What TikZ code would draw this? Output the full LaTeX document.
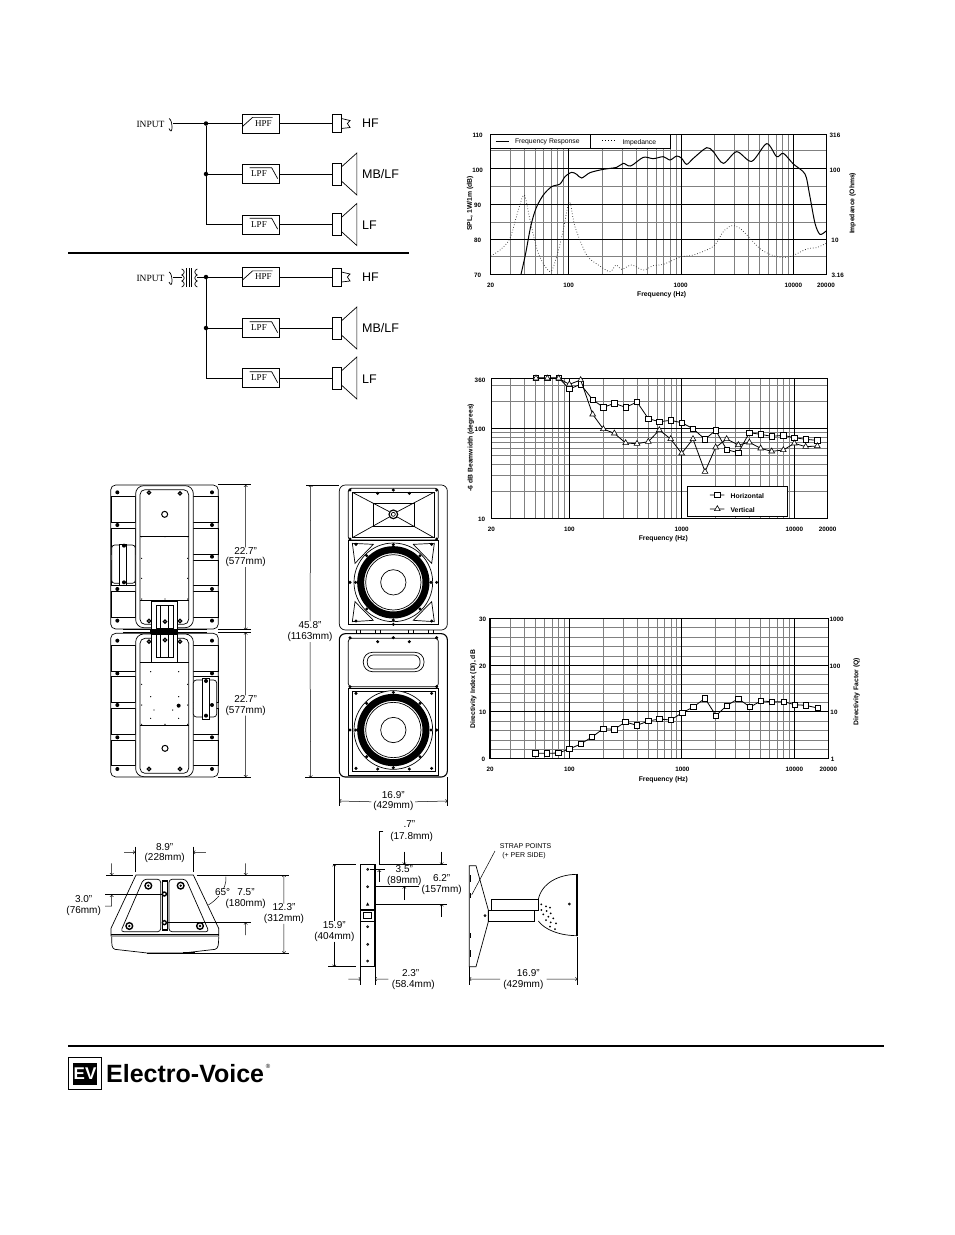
\documentclass[tikz,border=0pt]{standalone}
\usepackage{fontspec}
\setmainfont{Liberation Sans}
\newfontfamily\schemfont{Liberation Serif}
\usetikzlibrary{positioning}
\usetikzlibrary{calc,plotmarks}

\tikzset{
	filterbox/.style={draw, line width=0.7pt, minimum width=37pt, minimum height=19pt, inner sep=0pt, font=\schemfont\fontsize{9}{9}\selectfont},
	tweeter/.style={draw, line width=0.7pt, minimum width=9pt, minimum height=18pt, inner sep=0pt},
	woofer/.style={draw, line width=0.7pt, minimum width=9pt, minimum height=22pt, inner sep=0pt},
	junction/.style={circle, fill=black, inner sep=0pt, minimum size=4.5pt},
	wire/.style={line width=0.7pt},
	drivertext/.style={anchor=west, inner sep=0pt, font=\fontsize{12.5}{12.5}\selectfont},
	inputtext/.style={inner sep=0pt, font=\schemfont\fontsize{9.5}{9.5}\selectfont},
	ticktext/.style={inner sep=0pt, font=\bfseries\fontsize{6.3}{6.3}\selectfont},
	axistext/.style={inner sep=0pt, font=\bfseries\fontsize{6.8}{6.8}\selectfont},
	legendtext/.style={inner sep=0pt, font=\fontsize{6.8}{6.8}\selectfont},
	gridminor/.style={line width=0.7pt, draw=black!50},
	gridmajor/.style={line width=0.9pt, draw=black},
	cabline/.style={line width=0.7pt},
	dimline/.style={line width=0.5pt},
	dimtext/.style={inner sep=0pt, font=\fontsize{10}{10}\selectfont},
	strongline/.style={line width=2pt},
	squaremarks/.style={mark=square*, mark size=7.8pt, mark options={fill=white, line width=0.6pt}},
	trianglemarks/.style={mark=triangle*, mark size=10pt, mark options={fill=white, line width=0.6pt}},
}

% log frequency grid: position of 100 Hz, width of a decade, top, bottom
\newcommand{\freqgrid}[4]{%
	\foreach \fq in {30,40,50,60,70,80,90,200,300,400,500,600,700,800,900,2000,3000,4000,5000,6000,7000,8000,9000}{
		\pgfmathsetmacro{\gridx}{#1+#2*(log10(\fq)-2)}
		\draw[gridminor] (\gridx,#3) -- (\gridx,#4);
	}
	\foreach \fq in {0,1,2}{
		\pgfmathsetmacro{\gridx}{#1+#2*\fq}
		\draw[gridmajor] (\gridx,#3) -- (\gridx,#4);
	}
}
% cone and flare of the two driver sizes
\newcommand{\conecut}[1]{%
	\draw[wire] ($(#1.east)+(0,-7)$) -- ++(15.5,-14) -- ++(0,42) -- ($(#1.east)+(0,7)$);
}
\newcommand{\hornflare}[1]{%
	\draw[wire] ($(#1.east)+(0,-5)$) -- ++(8.7,2) -- ++(-2.7,3) -- ++(2.7,4) -- ++(-8.7,1);
}
% slope marks on the filter boxes
\newcommand{\hpfmark}[1]{%
	\draw[wire] ($(#1.south west)+(1,-7)$) -- ++(10,-9) -- ++(20,0);
}
\newcommand{\lpfmark}[1]{%
	\draw[wire] ($(#1.north west)+(8,3.5)$) -- ++(22,0) -- ++(6,11);
}
% front woofer, in the coordinates of its scope
\newcommand{\wooferface}[2]{%
	\draw[cabline] (#1,#2) circle[radius=118];
	\draw[line width=7pt] (#1,#2) circle[radius=98];
	\draw[cabline] (#1,#2) circle[radius=83];
	\draw[cabline] (#1,#2) circle[radius=38];
	\foreach \ang in {0,45,...,315}{
		\fill ($(#1,#2)+(\ang:113)$) circle[radius=5];
	}
}

\begin{document}
\begin{tikzpicture}[x=1pt,y=-1pt]
	\useasboundingbox (0,0) rectangle (954,1235);
	\fill[white] (0,0) rectangle (954,1235);
	
	% ---------------------
	% Schematic, upper block
	\coordinate (jackA) at (173,123.5);
	\node[junction] (jA) at (206,123.5) {};
	\node[junction] (jB) at (206,174) {};
	\node[filterbox] (hpfA) at (260.5,123.5) {\raisebox{-1.5pt}{\hspace{6pt}HPF}};
	\node[filterbox] (lpfB) at (260.5,174) {\raisebox{-1.5pt}{LPF\hspace{3pt}}};
	\node[filterbox] (lpfC) at (260.5,224.5) {\raisebox{-1.5pt}{LPF\hspace{3pt}}};
	\node[tweeter] (drvA) at (336.5,123.5) {};
	\node[woofer] (drvB) at (336.5,174) {};
	\node[woofer] (drvC) at (336.5,224.5) {};
	\node[drivertext] (labA) at (362,123.5) {HF};
	\node[drivertext] (labB) at (362,174) {MB/LF};
	\node[drivertext] (labC) at (362,225) {LF};
	\node[inputtext] (inA) at (150.5,124) {INPUT};
	
	\draw[wire] (jackA) -- (jA) -- (hpfA);
	\draw[wire] (jA) -- (jB) -- (lpfB);
	\draw[wire] (jB) |- (lpfC);
	\draw[wire] (hpfA) -- (drvA);
	\draw[wire] (lpfB) -- (drvB);
	\draw[wire] (lpfC) -- (drvC);
	\draw[wire] (jackA) ++(-4,-5) .. controls +(4,1) and +(4,9) .. ++(0,10);
	\hornflare{drvA}
	\conecut{drvB}
	\conecut{drvC}
	\hpfmark{hpfA}
	\lpfmark{lpfB}
	\lpfmark{lpfC}
	
	\coordinate (sepL) at (68,253);
	\coordinate (sepR) at (409,253);
	\draw[strongline] (sepL) -- (sepR);
	
	% ---------------------
	% Schematic, lower block
	\coordinate (jackD) at (173,277);
	\coordinate (coilL) at (181.7,277);
	\coordinate (coilR) at (197.3,277);
	\node[junction] (jD) at (206,277) {};
	\node[junction] (jE) at (206,328) {};
	\node[filterbox] (hpfD) at (260.5,277) {\raisebox{-1.5pt}{\hspace{6pt}HPF}};
	\node[filterbox] (lpfE) at (260.5,328) {\raisebox{-1.5pt}{LPF\hspace{3pt}}};
	\node[filterbox] (lpfF) at (260.5,378) {\raisebox{-1.5pt}{LPF\hspace{3pt}}};
	\node[tweeter] (drvD) at (336.5,277) {};
	\node[woofer] (drvE) at (336.5,328) {};
	\node[woofer] (drvF) at (336.5,378) {};
	\node[drivertext] (labD) at (362,277) {HF};
	\node[drivertext] (labE) at (362,328) {MB/LF};
	\node[drivertext] (labF) at (362,379) {LF};
	\node[inputtext] (inD) at (150.5,278) {INPUT};
	
	\draw[wire] (jackD) -- (coilL);
	\draw[wire] (coilR) -- (jD) -- (hpfD);
	\draw[wire] (jD) -- (jE) -- (lpfE);
	\draw[wire] (jE) |- (lpfF);
	\draw[wire] (hpfD) -- (drvD);
	\draw[wire] (lpfE) -- (drvE);
	\draw[wire] (lpfF) -- (drvF);
	\draw[wire] (jackD) ++(-4,-5) .. controls +(4,1) and +(4,9) .. ++(0,10);
	\hornflare{drvD}
	\conecut{drvE}
	\conecut{drvF}
	\hpfmark{hpfD}
	\lpfmark{lpfE}
	\lpfmark{lpfF}
	
	% transformer
	\begin{scope}[shift={(120,100)},scale=1/3]
		\foreach \bump in {507,525,543}{
			\draw[wire] (185,\bump) .. controls (195,\bump+3) and (195,\bump+15) .. (185,\bump+18);
			\draw[wire] (232,\bump) .. controls (222,\bump+3) and (222,\bump+15) .. (232,\bump+18);
		}
		\foreach \core in {200,207,215}{
			\draw[wire] (\core,505) -- (\core,562);
		}
	\end{scope}
	
	% ------------------------------------------------
	% Frequency response chart
	\begin{scope}[shift={(460,120)},scale=1/3]
		\foreach \rowy in {92,198,306,410}{
			\draw[gridminor] (92,\rowy) -- (1098,\rowy);
		}
		\freqgrid{326}{337}{42}{463}
		\foreach \rowy in {146,254,358}{
			\draw[gridmajor] (92,\rowy) -- (1098,\rowy);
		}
		\draw[line width=1pt] (92,42) rectangle (1098,463);
		
		\node[draw, line width=0.9pt, fill=white, minimum width=100pt, minimum height=14.5pt, inner sep=0pt] (legendSpl) at (241,65) {};
		\node[draw, line width=0.9pt, fill=white, minimum width=80pt, minimum height=14.5pt, inner sep=0pt] (legendImp) at (511,65) {};
		\coordinate (splA) at (107,63);
		\coordinate (splB) at (148,63);
		\coordinate (impA) at (427,62);
		\coordinate (impB) at (467,62);
		\draw[line width=1pt] (splA) -- (splB);
		\draw[line width=0.9pt, dotted] (impA) -- (impB);
		\node[legendtext] (legendSplText) at (262,67) {Frequency Response};
		\node[legendtext] (legendImpText) at (538,67) {Impedance};
		
		\draw[line width=0.7pt, dotted, draw=black!85] plot[smooth] coordinates {(92,408) (120,390) (150,355) (175,270) (193,225) (210,300) (235,400) (270,455) (290,410) (310,330) (328,245) (345,320) (380,405) (415,435) (450,455) (468,435) (485,448) (515,435) (550,450) (580,437) (610,433) (640,420) (665,410) (700,405) (740,390) (765,375) (790,335) (815,317) (840,325) (870,355) (905,390) (950,410) (990,410) (1040,387) (1070,383) (1098,370)};
		\draw[line width=1pt] plot[smooth] coordinates {(183,463) (197,400) (212,320) (228,265) (250,225) (275,200) (300,192) (315,170) (335,157) (350,163) (365,174) (390,158) (430,148) (470,142) (490,130) (512,138) (550,112) (580,116) (610,110) (630,120) (650,108) (665,115) (680,133) (700,115) (740,83) (760,95) (790,130) (830,95) (875,124) (920,71) (950,110) (970,100) (1000,132) (1035,162) (1048,220) (1065,310) (1080,343) (1098,333)};
		
		\node[ticktext] (splT) at (53,45) {110};
		\node[ticktext] (splU) at (53,150) {100};
		\node[ticktext] (splV) at (53,255) {90};
		\node[ticktext] (splW) at (53,360) {80};
		\node[ticktext] (splX) at (53,465) {70};
		\node[ticktext] (impT) at (1125,45) {316};
		\node[ticktext] (impU) at (1125,150) {100};
		\node[ticktext] (impV) at (1125,360) {10};
		\node[ticktext] (impW) at (1133,465) {3.16};
		\node[ticktext] (frqA) at (92,495) {20};
		\node[ticktext] (frqB) at (326,495) {100};
		\node[ticktext] (frqC) at (662,495) {1000};
		\node[ticktext] (frqD) at (1000,495) {10000};
		\node[ticktext] (frqE) at (1098,495) {20000};
		\node[axistext] (frqTitle) at (605,525) {Frequency (Hz)};
		\node[axistext, rotate=90] (splTitle) at (30,250) {SPL, 1W/1m (dB)};
		\node[axistext, rotate=90] (impTitle) at (1178,250) {Impedance (Ohms)};
	\end{scope}
	
	% ------------------------------------------------
	% Beamwidth chart
	\begin{scope}[shift={(460,365)},scale=1/3]
		\foreach \rowy in {379,331,297,271,250,232,216,202,109,61}{
			\draw[gridminor] (94,\rowy) -- (1103,\rowy);
		}
		\freqgrid{328}{337.5}{40}{460}
		\draw[gridmajor] (94,190) -- (1103,190);
		\draw[line width=1pt] (94,40) rectangle (1103,460);
		
		\draw[line width=0.8pt] plot[squaremarks] coordinates {(228,38) (262,38) (296,38) (328,72) (362,58) (398,104) (430,127) (463,115) (497,127) (531,111) (565,161) (598,170) (632,166) (665,173) (699,191) (735,223) (767,196) (800,254) (835,263) (868,203) (902,208) (935,214) (970,211) (1003,218) (1037,223) (1072,226)};
		\draw[line width=0.8pt] plot[trianglemarks] coordinates {(228,40) (262,40) (296,40) (328,58) (362,45) (398,148) (430,192) (463,205) (497,234) (531,236) (565,230) (598,195) (632,222) (665,265) (699,222) (735,320) (767,247) (800,222) (835,240) (868,232) (902,250) (935,259) (970,255) (1003,235) (1037,245) (1072,243)};
		
		\node[draw, line width=0.9pt, fill=white, minimum width=100pt, minimum height=30pt, inner sep=0pt] (legendBeam) at (832.5,410) {};
		\coordinate (horA) at (750,390);
		\coordinate (horB) at (793,390);
		\coordinate (verA) at (750,432);
		\coordinate (verB) at (793,432);
		\draw[line width=0.7pt] plot[squaremarks, mark indices={2}] coordinates {(horA) (772,390) (horB)};
		\draw[line width=0.7pt] plot[trianglemarks, mark indices={2}] coordinates {(verA) (772,432) (verB)};
		\node[axistext] (horText) at (862,392) {Horizontal};
		\node[axistext] (verText) at (848,434) {Vertical};
		
		\node[ticktext] (bemT) at (60,45) {360};
		\node[ticktext] (bemU) at (60,192) {100};
		\node[ticktext] (bemV) at (65,462) {10};
		\node[ticktext] (bemA) at (94,492) {20};
		\node[ticktext] (bemB) at (328,492) {100};
		\node[ticktext] (bemC) at (665,492) {1000};
		\node[ticktext] (bemD) at (1003,492) {10000};
		\node[ticktext] (bemE) at (1103,492) {20000};
		\node[axistext] (bemTitle) at (610,522) {Frequency (Hz)};
		\node[axistext, rotate=90] (bemSide) at (33,248) {-6 dB Beamwidth (degrees)};
	\end{scope}
	
	% ------------------------------------------------
	% Directivity chart
	\begin{scope}[shift={(460,610)},scale=1/3]
		\foreach \rowy in {53,81,110,138,194,222,250,277,333,361,390,418}{
			\draw[gridminor] (90,\rowy) -- (1105,\rowy);
		}
		\freqgrid{328}{337.5}{25}{446}
		\foreach \rowy in {166,305}{
			\draw[gridmajor] (90,\rowy) -- (1105,\rowy);
		}
		\draw[line width=0.9pt] (90,446) -- (1105,446) -- (1105,25);
		\draw[line width=1.5pt] (90,446) -- (90,25) -- (1105,25);
		
		\draw[line width=0.8pt] plot[squaremarks] coordinates {(226,430) (261,430) (295,429) (328,417) (362,402) (396,381) (430,356) (463,358) (496,336) (531,346) (565,333) (598,327) (632,330) (667,308) (700,291) (735,265) (768,317) (800,287) (835,266) (870,291) (903,273) (936,275) (971,275) (1004,284) (1037,286) (1073,294)};
		
		\node[ticktext] (dixT) at (68,28) {30};
		\node[ticktext] (dixU) at (68,168) {20};
		\node[ticktext] (dixV) at (68,308) {10};
		\node[ticktext] (dixW) at (70,448) {0};
		\node[ticktext] (qfaT) at (1130,28) {1000};
		\node[ticktext] (qfaU) at (1125,168) {100};
		\node[ticktext] (qfaV) at (1122,308) {10};
		\node[ticktext] (qfaW) at (1118,448) {1};
		\node[ticktext] (dirA) at (90,478) {20};
		\node[ticktext] (dirB) at (328,478) {100};
		\node[ticktext] (dirC) at (667,478) {1000};
		\node[ticktext] (dirD) at (1003,478) {10000};
		\node[ticktext] (dirE) at (1105,478) {20000};
		\node[axistext] (dirTitle) at (610,508) {Frequency (Hz)};
		\node[axistext, rotate=90] (dixTitle) at (40,238) {Directivity Index (DI), dB};
		\node[axistext, rotate=90] (qfaTitle) at (1190,245) {Directivity Factor (Q)};
	\end{scope}
	
	% ------------------------------------------------
	% Rear view of the two cabinets
	\begin{scope}[shift={(100,475)},scale=1/3]
		\draw[cabline, rounded corners=5pt] (32,30) rectangle (355,462);
		\draw[cabline, rounded corners=5pt] (32,475) rectangle (355,906);
		\foreach \rowa/\rowb in {65/142,160/238,255/332,350/427,510/590,605/682,700/778,795/872}{
			\draw[cabline] (33,\rowa) rectangle (107,\rowb);
			\draw[cabline] (278,\rowa) rectangle (354,\rowb);
		}
		\draw[cabline, rounded corners=8pt, fill=white] (107,32) rectangle (280,458);
		\draw[cabline, rounded corners=5pt] (120,44) rectangle (266,448);
		\draw[cabline, rounded corners=8pt, fill=white] (107,477) rectangle (280,905);
		\draw[cabline, rounded corners=5pt] (120,490) rectangle (266,895);
		\draw[cabline] (120,183) -- (266,183);
		\draw[cabline] (120,375) -- (266,375);
		\draw[cabline] (120,563) -- (266,563);
		\draw[cabline] (120,752) -- (266,752);
		
		% horn brackets
		\draw[cabline, fill=white] (155,378) rectangle (232,462);
		\draw[cabline, fill=white] (168,390) rectangle (220,460);
		\draw[cabline] (180,390) -- (180,460) (206,390) -- (206,460);
		\draw[cabline, fill=white] (155,478) rectangle (232,562);
		\draw[cabline, fill=white] (168,478) rectangle (220,548);
		\draw[cabline] (180,478) -- (180,548) (206,478) -- (206,548);
		\fill (150,461) rectangle (235,478);
		\draw[cabline] (70,464) -- (320,464) (70,472) -- (320,472);
		
		% handles
		\draw[cabline, rounded corners=3pt, fill=white] (35,210) rectangle (106,325);
		\draw[cabline, fill=white] (58,207) rectangle (80,330);
		\draw[cabline, rounded corners=3pt, fill=white] (280,615) rectangle (350,726);
		\draw[cabline, fill=white] (306,610) rectangle (328,732);
		
		% screws
		\foreach \sx/\sy in {52/52,336/52,52/150,336/150,52/342,336/342,52/437,336/437,336/245,72/322,72/212,52/497,336/497,52/595,336/595,52/690,336/690,52/787,336/787,52/882,336/882,318/618,318/722,236/692}{
			\fill (\sx,\sy) circle[radius=6];
		}
		\foreach \sx/\sy in {147/53,240/55,147/438,240/438,195/440,147/500,240/500,195/495,147/882,240/882}{
			\draw[line width=1.2pt] (\sx,\sy) circle[radius=5];
		}
		\draw[line width=1pt, fill=white] (194,118) circle[radius=9];
		\draw[line width=1pt, fill=white] (195,820) circle[radius=9];
		\foreach \sx/\sy in {195/185,263/185,125/185,125/250,263/250,125/310,263/310,125/372,263/372,195/372,125/628,263/628,125/690,263/690,125/748,263/748,195/748,152/590,236/590,152/665,236/665,162/705,218/705,152/730,236/730}{
			\fill (\sx,\sy) circle[radius=2];
		}
		
		% dimensions
		\coordinate (rearA) at (437,30);
		\coordinate (rearB) at (437,464);
		\coordinate (rearC) at (437,473);
		\coordinate (rearD) at (437,906);
		\draw[dimline] (355,28) -- (452,28);
		\draw[dimline] (355,464) -- (452,464);
		\draw[dimline] (355,473) -- (452,473);
		\draw[dimline] (355,906) -- (452,906);
		\node[dimtext, fill=white] (rearT) at (437,228) {22.7"};
		\node[dimtext, fill=white] (rearU) at (437,262) {(577mm)};
		\node[dimtext, fill=white] (rearV) at (437,672) {22.7"};
		\node[dimtext, fill=white] (rearW) at (437,707) {(577mm)};
		\draw[dimline, ->] (rearT) -- (rearA);
		\draw[dimline, ->] (rearU) -- (rearB);
		\draw[dimline, ->] (rearV) -- (rearC);
		\draw[dimline, ->] (rearW) -- (rearD);
	\end{scope}
	
	% ------------------------------------------------
	% Front view of the two cabinets
	\begin{scope}[shift={(280,475)},scale=1/3]
		\draw[cabline, rounded corners=6pt] (178,30) rectangle (502,465);
		\draw[line width=1.1pt, rounded corners=6pt] (178,476) rectangle (502,906);
		\foreach \tx in {228,242,285,300,385,400,445,460}{
			\draw[dimline] (\tx,465) -- (\tx,476);
		}
		
		% top cabinet
		\draw[cabline, rounded corners=3pt] (205,40) rectangle (475,195);
		\draw[cabline] (217,52) rectangle (462,188);
		\draw[cabline] (280,85) rectangle (403,155);
		\draw[cabline] (217,52) -- (328,110) (462,52) -- (352,110) (217,188) -- (328,126) (462,188) -- (352,126);
		\draw[line width=1.2pt, fill=white] (340,118) circle[radius=13];
		\draw[cabline] (340,118) circle[radius=6];
		\draw[line width=1pt] (205,197) rectangle (475,448);
		\draw[cabline] (217,205) -- (280,208) -- (225,265) -- cycle;
		\draw[cabline] (463,205) -- (400,208) -- (455,265) -- cycle;
		\draw[cabline] (217,440) -- (280,436) -- (225,380) -- cycle;
		\draw[cabline] (463,440) -- (400,436) -- (455,380) -- cycle;
		\fill[white] (340,322) circle[radius=118];
		\wooferface{340}{322}
		
		% bottom cabinet
		\draw[cabline, rounded corners=3pt] (205,490) rectangle (475,635);
		\draw[cabline, rounded corners=9pt] (250,532) rectangle (432,590);
		\draw[cabline, rounded corners=6pt] (262,540) rectangle (420,582);
		\draw[line width=1pt] (205,640) rectangle (475,900);
		\draw[cabline] (217,650) rectangle (465,890);
		\fill[white] (340,765) circle[radius=118];
		\wooferface{340}{765}
		
		\foreach \sx/\sy in {210/45,340/45,470/45,293/55,388/55,210/192,470/192,228/208,455/208,228/438,455/438,210/322,470/322,340/448,210/488,340/488,470/488,293/500,388/500,210/635,470/635,228/655,455/655,228/880,455/880,210/765,470/765,293/882,388/882}{
			\fill (\sx,\sy) circle[radius=5];
		}
		
		% dimensions
		\coordinate (frontA) at (92,30);
		\coordinate (frontB) at (92,907);
		\coordinate (frontC) at (178,978);
		\coordinate (frontD) at (502,978);
		\draw[dimline] (78,30) -- (178,30);
		\draw[dimline] (75,907) -- (178,907);
		\draw[dimline] (178,906) -- (178,992);
		\draw[dimline] (502,906) -- (502,992);
		\node[dimtext] (frontT) at (90,450) {45.8"};
		\node[dimtext] (frontU) at (90,487) {(1163mm)};
		\node[dimtext] (frontV) at (340,960) {16.9"};
		\node[dimtext] (frontW) at (340,992) {(429mm)};
		\draw[dimline, ->] (frontT) -- (frontA);
		\draw[dimline, ->] (frontU) -- (frontB);
		\draw[dimline, ->] (frontW.north west) ++(-5,3) -- (frontC);
		\draw[dimline, ->] (frontW.north east) ++(5,3) -- (frontD);
	\end{scope}
	
	% ------------------------------------------------
	% Cabinet seen from above
	\begin{scope}[shift={(60,820)},scale=1/3]
		\draw[cabline] (228,165) -- (153,325) -- (153,348) -- (476,348) -- (476,325) -- (400,165) -- cycle;
		\draw[line width=1pt] (152,344) -- (476,344);
		\draw[cabline] (155,350) .. controls (155,375) and (155,385) .. (165,388) -- (262,399) -- (370,399) -- (465,388) .. controls (475,385) and (476,375) .. (476,350);
		\draw[line width=1.2pt] (370,399) -- (405,399);
		\draw[cabline, rounded corners=3pt] (250,178) -- (302,178) -- (302,335) -- (182,335) -- cycle;
		\draw[cabline, rounded corners=3pt] (327,178) -- (378,178) -- (447,335) -- (327,335) -- cycle;
		\draw[line width=1.2pt] (308,183) rectangle (322,330);
		\foreach \sx/\sy in {265/197,362/197,208/318,420/318}{
			\draw[line width=1.4pt] (\sx,\sy) circle[radius=10];
			\fill (\sx,\sy) circle[radius=4];
		}
		\foreach \sx/\sy in {313/222,313/308}{
			\draw[line width=1.4pt] (\sx,\sy) circle[radius=6];
		}
		
		\coordinate (topA) at (225,97);
		\coordinate (topB) at (400,97);
		\coordinate (topC) at (155,165);
		\coordinate (topD) at (155,225);
		\coordinate (topE) at (557,165);
		\coordinate (topF) at (557,308);
		\coordinate (topG) at (672,165);
		\coordinate (topH) at (672,400);
		\draw[dimline] (138,165) -- (220,165);
		\draw[dimline] (410,165) -- (688,165);
		\draw[dimline] (262,400) -- (688,400);
		\draw[dimline] (135,222) -- (305,222);
		\draw[dimline] (325,308) -- (572,308);
		\draw[dimline] (225,80) -- (225,155);
		\draw[dimline] (400,80) -- (400,155);
		\draw[dimline, ->] (192,97) -- (topA);
		\draw[dimline, ->] (438,97) -- (topB);
		\draw[dimline, ->] (155,130) -- (topC);
		\draw[dimline, ->] (135,258) -- (155,258) -- (topD);
		\draw[dimline, ->] (557,130) -- (topE);
		\draw[dimline, ->] (557,345) -- (topF);
		\draw[dimline] (498,170) .. controls (500,210) and (470,240) .. (445,255);
		\node[dimtext] (topT) at (314,80) {8.9"};
		\node[dimtext] (topU) at (314,113) {(228mm)};
		\node[dimtext] (topV) at (71,238) {3.0"};
		\node[dimtext] (topW) at (71,273) {(76mm)};
		\node[dimtext, fill=white] (topX) at (488,217) {65°};
		\node[dimtext] (topY) at (558,217) {7.5"};
		\node[dimtext] (topZ) at (557,252) {(180mm)};
		\node[dimtext] (topP) at (672,262) {12.3"};
		\node[dimtext] (topQ) at (672,297) {(312mm)};
		\draw[dimline, ->] (topP) -- (topG);
		\draw[dimline, ->] (topQ) -- (topH);
	\end{scope}
	
	% ------------------------------------------------
	% Bracket and side view
	\begin{scope}[shift={(320,815)},scale=1/3]
		\draw[cabline] (122,148) rectangle (165,455);
		\draw[line width=1.4pt] (165,148) -- (165,455);
		\draw[line width=1.4pt, fill=white] (122,285) rectangle (165,320);
		\draw[cabline] (130,293) rectangle (155,310);
		\foreach \sy in {163,215,335,388,438}{
			\draw[cabline] (143,\sy) circle[radius=3];
		}
		\fill (138,272) -- (143,262) -- (148,272) -- cycle;
		
		\coordinate (brkA) at (43,148);
		\coordinate (brkB) at (43,455);
		\coordinate (brkC) at (122,492);
		\coordinate (brkD) at (165,492);
		\draw[dimline] (40,148) -- (108,148);
		\draw[dimline] (25,455) -- (108,455);
		\draw[dimline] (122,455) -- (122,510);
		\draw[dimline] (165,455) -- (165,510);
		\draw[dimline] (150,163) -- (195,163);
		\draw[dimline] (165,215) -- (298,215);
		\draw[dimline] (165,268) -- (382,268);
		\draw[dimline] (178,148) -- (382,148);
		\draw[dimline] (190,50) -- (178,50) -- (178,148);
		\draw[dimline, ->] (178,200) -- (178,165);
		\draw[dimline, ->] (253,110) -- (253,148);
		\draw[dimline, ->] (365,110) -- (365,148);
		\draw[dimline, ->] (253,255) -- (253,215);
		\draw[dimline, ->] (365,305) -- (365,268);
		\draw[dimline, ->] (85,492) -- (brkC);
		\draw[dimline, ->] (205,492) -- (brkD);
		\node[dimtext] (brkT) at (43,330) {15.9"};
		\node[dimtext] (brkU) at (43,365) {(404mm)};
		\draw[dimline, ->] (brkT) -- (brkA);
		\draw[dimline, ->] (brkU) -- (brkB);
		\node[dimtext] (brkV) at (268,28) {.7"};
		\node[dimtext] (brkW) at (275,65) {(17.8mm)};
		\node[dimtext] (brkX) at (253,163) {3.5"};
		\node[dimtext, fill=white] (brkY) at (253,197) {(89mm)};
		\node[dimtext] (brkZ) at (365,188) {6.2"};
		\node[dimtext, fill=white] (brkP) at (365,225) {(157mm)};
		\node[dimtext] (brkQ) at (272,473) {2.3"};
		\node[dimtext] (brkR) at (280,510) {(58.4mm)};
		
		% side view
		\draw[cabline] (448,152) -- (468,152) -- (505,285) -- (505,320) -- (468,455) -- (448,455) -- cycle;
		\foreach \my/\mz in {180/200,235/250,355/370,405/425}{
			\draw[line width=1.2pt] (451,\my) -- (451,\mz);
		}
		\draw[cabline] (495,302) circle[radius=3];
		\draw[cabline] (515,253) rectangle (655,287);
		\draw[cabline] (505,287) rectangle (644,320);
		\draw[cabline] (655,253) .. controls (665,205) and (715,178) .. (772,178);
		\draw[cabline] (655,318) .. controls (675,345) and (720,362) .. (772,362);
		\draw[line width=2.2pt] (770,178) -- (770,362);
		\draw[cabline] (748,267) circle[radius=3];
		\foreach \sx/\sy in {664/268,678/274,690/278,664/285,680/288,692/295,670/298,685/305,700/310,678/315,692/322,708/325,690/335,705/342}{
			\fill (\sx,\sy) circle[radius=3];
		}
		\coordinate (strapA) at (525,108);
		\coordinate (strapB) at (455,240);
		\draw[dimline] (strapA) -- (strapB);
		\coordinate (sideC) at (448,492);
		\coordinate (sideD) at (772,492);
		\draw[dimline] (448,455) -- (448,510);
		\draw[dimline] (772,365) -- (772,510);
		\draw[dimline, ->] (540,492) -- (sideC);
		\draw[dimline, ->] (680,492) -- (sideD);
		\node[dimtext] (sideT) at (625,473) {16.9"};
		\node[dimtext] (sideU) at (610,510) {(429mm)};
		\node[inner sep=0pt, font=\fontsize{7}{7}\selectfont] (strapT) at (617,93) {STRAP POINTS};
		\node[inner sep=0pt, font=\fontsize{7}{7}\selectfont] (strapU) at (612,122) {(+ PER SIDE)};
	\end{scope}
	
	% ------------------------------------------------
	% Footer
	\coordinate (footL) at (68,1046);
	\coordinate (footR) at (884,1046);
	\draw[strongline] (footL) -- (footR);
	\node[draw, line width=0.8pt, minimum width=33.5pt, minimum height=32pt, inner sep=0pt] (logoBox) at (85,1073.5) {};
	\node[fill=black, text=white, minimum width=24pt, minimum height=22pt, inner sep=0pt, font=\bfseries\fontsize{17}{17}\selectfont] (logoEv) at (85,1073.5) {EV};
	\node[anchor=west, inner sep=0pt, font=\bfseries\fontsize{25}{25}\selectfont] (logoText) at (106,1074) {Electro-Voice};
	\node[inner sep=0pt, font=\fontsize{6}{6}\selectfont] (logoReg) at (268,1066) {®};
\end{tikzpicture}
\end{document}
